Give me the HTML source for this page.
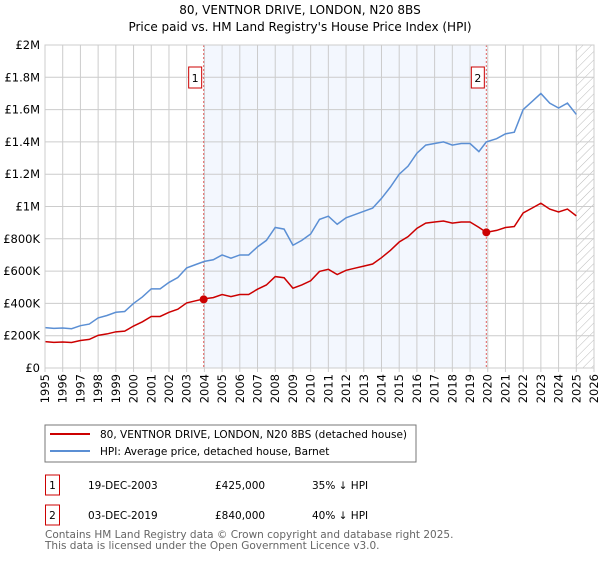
<!DOCTYPE html>
<html><head><meta charset="utf-8"><style>
body{margin:0;background:#fff;font-family:"Liberation Sans","DejaVu Sans",sans-serif}
svg text{font-family:"DejaVu Sans","Liberation Sans",sans-serif}
</style></head><body>
<svg id="c" width="600" height="560" xmlns="http://www.w3.org/2000/svg">
<text x="300" y="14" text-anchor="middle" font-size="12">80, VENTNOR DRIVE, LONDON, N20 8BS</text>
<text x="300" y="31" text-anchor="middle" font-size="12">Price paid vs. HM Land Registry's House Price Index (HPI)</text>
<g id="plot"></g>
<g>
<rect x="45" y="425" width="371" height="37" fill="#fff" stroke="#777"/>
<line x1="50" y1="434" x2="90" y2="434" stroke="#cc0000" stroke-width="2"/>
<text x="100" y="438" font-size="10.5">80, VENTNOR DRIVE, LONDON, N20 8BS (detached house)</text>
<line x1="50" y1="451" x2="90" y2="451" stroke="#5b8fd4" stroke-width="2"/>
<text x="100" y="455" font-size="10.5">HPI: Average price, detached house, Barnet</text>
</g>
<g font-size="10.5">
<rect x="45.5" y="475" width="14" height="20" fill="none" stroke="#cc0000"/>
<text x="52.5" y="489" text-anchor="middle">1</text>
<text x="88" y="489">19-DEC-2003</text><text x="215" y="489">£425,000</text><text x="312" y="489">35% ↓ HPI</text>
<rect x="45.5" y="505" width="14" height="20" fill="none" stroke="#cc0000"/>
<text x="52.5" y="519" text-anchor="middle">2</text>
<text x="88" y="519">03-DEC-2019</text><text x="215" y="519">£840,000</text><text x="312" y="519">40% ↓ HPI</text>
</g>
<text x="45" y="538" font-size="10.5" fill="#666">Contains HM Land Registry data © Crown copyright and database right 2025.</text>
<text x="45" y="549" font-size="10.5" fill="#666">This data is licensed under the Open Government Licence v3.0.</text>
</svg>
<script>
const years=[1995,1995.5,1996,1996.5,1997,1997.5,1998,1998.5,1999,1999.5,2000,2000.5,2001,2001.5,2002,2002.5,2003,2003.5,2004,2004.5,2005,2005.5,2006,2006.5,2007,2007.5,2008,2008.5,2009,2009.5,2010,2010.5,2011,2011.5,2012,2012.5,2013,2013.5,2014,2014.5,2015,2015.5,2016,2016.5,2017,2017.5,2018,2018.5,2019,2019.5,2019.92,2020.5,2021,2021.5,2022,2022.5,2023,2023.5,2024,2024.5,2025];
const hpi=[250,245,248,243,262,272,310,325,345,350,400,440,490,490,530,560,620,640,660,670,700,680,700,700,750,790,870,860,760,790,830,920,940,890,930,950,970,990,1050,1120,1200,1250,1330,1380,1390,1400,1380,1390,1390,1340,1400,1420,1450,1460,1600,1650,1700,1640,1610,1640,1570];
const price=[163,159,161,158,170,177,202,211,224,228,260,286,319,319,345,364,403,416,429,436,455,442,455,455,488,514,566,559,494,514,540,598,611,579,605,618,631,644,683,728,780,813,865,897,904,910,897,904,904,871,840,852,870,876,960,990,1020,984,966,984,942];
const saleYears=[2003.96,2019.92];
const salePrices=[425,840];
const yTicks=[0,200,400,600,800,1000,1200,1400,1600,1800,2000];
const yLabels=["£0","£200K","£400K","£600K","£800K","£1M","£1.2M","£1.4M","£1.6M","£1.8M","£2M"];
const xTicks=[1995,1996,1997,1998,1999,2000,2001,2002,2003,2004,2005,2006,2007,2008,2009,2010,2011,2012,2013,2014,2015,2016,2017,2018,2019,2020,2021,2022,2023,2024,2025,2026];
const X=y=>45+(y-1995)*(549/31), Y=v=>368-v*(323/2000);
const NS="http://www.w3.org/2000/svg",g=document.getElementById('plot');
function mk(t,a){const e=document.createElementNS(NS,t);for(const k in a)e.setAttribute(k,a[k]);g.appendChild(e);return e;}
let e;
e=mk('rect',{x:X(saleYears[0]),y:45,width:X(saleYears[1])-X(saleYears[0]),height:323,fill:'#eef3fd',opacity:0.7});


const defs=mk('defs',{});defs.innerHTML='<pattern id="h" width="6" height="6" patternUnits="userSpaceOnUse" patternTransform="rotate(45)"><line x1="0" y1="0" x2="0" y2="6" stroke="#bbb" stroke-width="1"/></pattern>';
e=mk('rect',{x:X(2025),y:45,width:X(2026)-X(2025),height:323,fill:'url(#h)'});


yTicks.forEach((v,i)=>{
 e=mk('line',{x1:45,x2:594,y1:Y(v),y2:Y(v),stroke:'#ccc'});
 
 
 e=mk('text',{x:40,y:Y(v)+4,'text-anchor':'end','font-size':'11.5'});e.textContent=yLabels[i];
 
 
});
xTicks.forEach(y=>{
 e=mk('line',{x1:X(y),x2:X(y),y1:45,y2:372,stroke:'#ccc'});
 
 
 const tx=X(y)+4, ty=374;
 e=mk('text',{x:tx,y:ty,'text-anchor':'end','font-size':'11.5',transform:'rotate(-90 '+tx+' '+ty+')'});e.textContent=y;
 
 
});
saleYears.forEach((s,i)=>{
 e=mk('line',{x1:X(s),x2:X(s),y1:45,y2:368,stroke:'#e06060','stroke-dasharray':'2,2'});
 
 
 e=mk('rect',{x:X(s)-15,y:67,width:13,height:21,fill:'#fff',stroke:'#cc0000'});
 
 
 e=mk('text',{x:X(s)-8.5,y:82,'text-anchor':'middle','font-size':'11'});e.textContent=i+1;
 
 
});
e=mk('polyline',{points:years.map((y,i)=>X(y)+','+Y(hpi[i])).join(' '),fill:'none',stroke:'#5b8fd4','stroke-width':1.5});


e=mk('polyline',{points:years.map((y,i)=>X(y)+','+Y(price[i])).join(' '),fill:'none',stroke:'#cc0000','stroke-width':1.5});


saleYears.forEach((s,i)=>{
 e=mk('circle',{cx:X(s),cy:Y(salePrices[i]),r:4,fill:'#cc0000'});
 
 
});
e=mk('rect',{x:45,y:45,width:549,height:323,fill:'none',stroke:'#ccc'});


</script>
</body></html>
